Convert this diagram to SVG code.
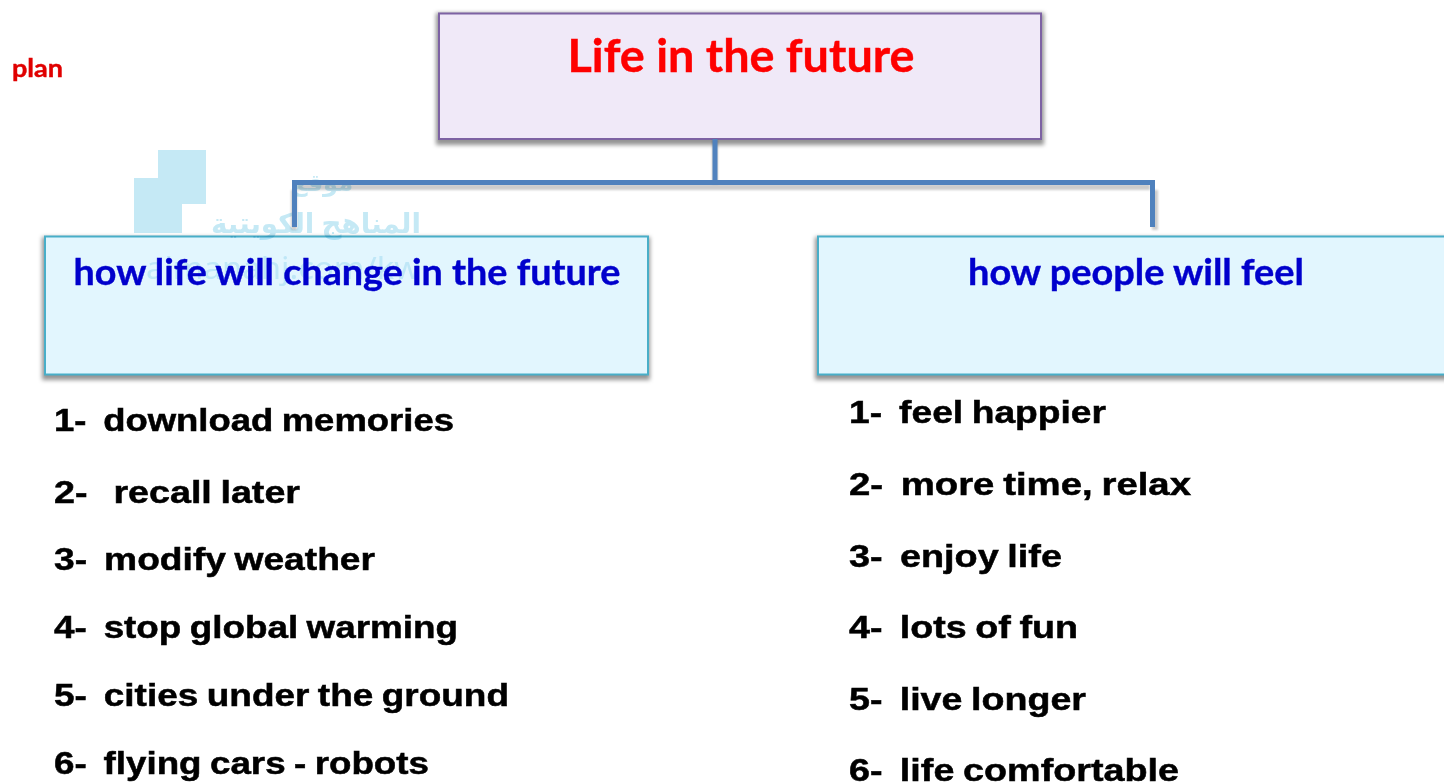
<svg xmlns="http://www.w3.org/2000/svg" width="1444" height="782" viewBox="0 0 1444 782">
<defs>
<filter id="soft" x="-5%" y="-15%" width="110%" height="130%"><feGaussianBlur stdDeviation="2"/></filter>
<filter id="softline" filterUnits="userSpaceOnUse" x="270" y="130" width="910" height="120"><feGaussianBlur stdDeviation="1.200"/></filter>
</defs>
<style>
.head{font-family:"Lato","Open Sans","Liberation Sans",sans-serif;font-weight:700;stroke-width:.4}
.item{font-family:"Liberation Sans",Arial,sans-serif;font-weight:700;font-size:31px;fill:#000;stroke:#000;stroke-width:.5;word-spacing:-1.500px}
.wm{font-family:"Noto Sans","DejaVu Sans",sans-serif;fill:#c5e9f5;font-weight:700}
.conn{fill:none;stroke:#4f81bd;stroke-width:5}
.connsh{fill:none;stroke:#000;stroke-opacity:.2;stroke-width:6;filter:url(#softline)}
.boxsh{fill:#000;fill-opacity:.42;filter:url(#soft)}
</style>
<rect width="1444" height="782" fill="#fff"/>
<g id="root">
<rect class="boxsh" x="436" y="13" width="608" height="132"/>
<rect x="439" y="13.500" width="602" height="125.500" fill="#f0e9f8" stroke="#7d62a3" stroke-width="2"/>
<text x="741" y="72" class="head" font-size="46" fill="#fe0000" stroke="#fe0000" text-anchor="middle" textLength="347" lengthAdjust="spacingAndGlyphs">Life in the future</text>
</g>
<g id="left-box">
<rect class="boxsh" x="42" y="237" width="608" height="143"/>
<rect x="45" y="236.500" width="603" height="138" fill="#e2f6fe" stroke="#48aec8" stroke-width="2"/>
</g>
<g id="right-box">
<rect class="boxsh" x="815" y="237" width="640" height="143"/>
<rect x="818" y="236.500" width="640" height="138" fill="#e2f6fe" stroke="#48aec8" stroke-width="2"/>
<text x="1136" y="285" class="head" font-size="36" fill="#0000cc" stroke="#0000cc" text-anchor="middle" textLength="336" lengthAdjust="spacingAndGlyphs">how people will feel</text>
</g>
<g id="watermark" style="mix-blend-mode:multiply">
<path d="M158 150H206V204H182V233H134V178H158Z" fill="#c5e9f5"/>
<text class="wm" x="322" y="191" font-size="24" text-anchor="middle">موقع</text>
<text class="wm" x="316" y="233" font-size="28" text-anchor="middle" textLength="210" lengthAdjust="spacingAndGlyphs">المناهج الكويتية</text>
<text class="wm" x="146" y="279" font-size="30" textLength="274" lengthAdjust="spacingAndGlyphs" style="font-weight:400;fill:#d8f0f8">almanahj.com/kw</text>
</g>
<g id="left-title">
<text x="347" y="285" class="head" font-size="36" fill="#0000cc" stroke="#0000cc" text-anchor="middle" textLength="547" lengthAdjust="spacingAndGlyphs">how life will change in the future</text>
</g>
<g id="connectors">
<path class="connsh" d="M297 187H1150M715 140V187M1155 190V230M294 190V230"/>
<path class="conn" d="M294.500 227V182.500H1152.500V227M715 139V182"/>
</g>
<g id="plan"><text x="12" y="77" class="head" font-size="24" fill="#e00000" stroke="#e00000" textLength="51" lengthAdjust="spacingAndGlyphs">plan</text></g>
<g id="left-list">
<text class="item" x="54" y="431" textLength="400" lengthAdjust="spacingAndGlyphs" xml:space="preserve">1-  download memories</text>
<text class="item" x="54" y="503" textLength="246" lengthAdjust="spacingAndGlyphs" xml:space="preserve">2-   recall later</text>
<text class="item" x="54" y="570" textLength="321" lengthAdjust="spacingAndGlyphs" xml:space="preserve">3-  modify weather</text>
<text class="item" x="54" y="638" textLength="404" lengthAdjust="spacingAndGlyphs" xml:space="preserve">4-  stop global warming</text>
<text class="item" x="54" y="706" textLength="455" lengthAdjust="spacingAndGlyphs" xml:space="preserve">5-  cities under the ground</text>
<text class="item" x="54" y="774" textLength="375" lengthAdjust="spacingAndGlyphs" xml:space="preserve">6-  flying cars - robots</text>
</g>
<g id="right-list">
<text class="item" x="849" y="423" textLength="257" lengthAdjust="spacingAndGlyphs" xml:space="preserve">1-  feel happier</text>
<text class="item" x="849" y="495" textLength="342" lengthAdjust="spacingAndGlyphs" xml:space="preserve">2-  more time, relax</text>
<text class="item" x="849" y="567" textLength="213" lengthAdjust="spacingAndGlyphs" xml:space="preserve">3-  enjoy life</text>
<text class="item" x="849" y="638" textLength="229" lengthAdjust="spacingAndGlyphs" xml:space="preserve">4-  lots of fun</text>
<text class="item" x="849" y="710" textLength="237" lengthAdjust="spacingAndGlyphs" xml:space="preserve">5-  live longer</text>
<text class="item" x="849" y="781" textLength="330" lengthAdjust="spacingAndGlyphs" xml:space="preserve">6-  life comfortable</text>
</g>
</svg>
